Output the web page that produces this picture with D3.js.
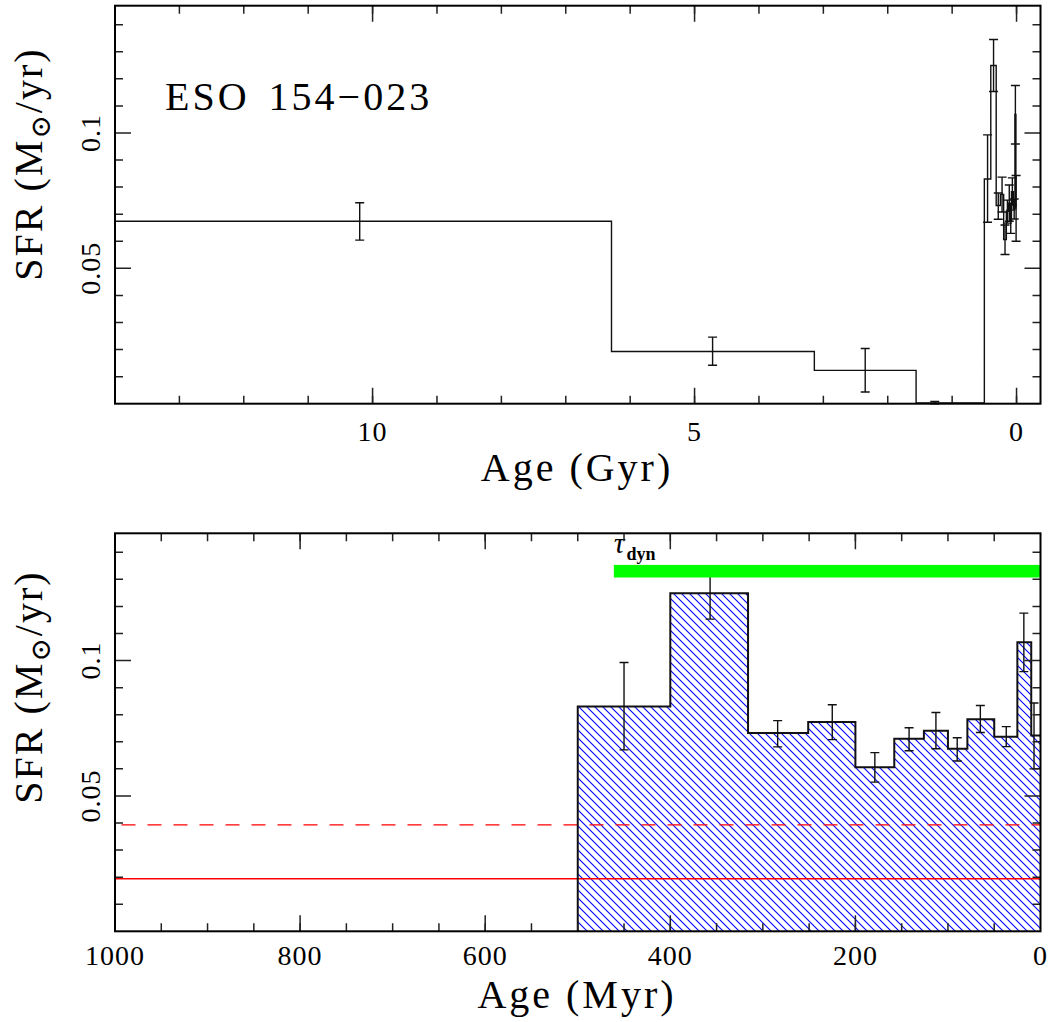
<!DOCTYPE html>
<html>
<head>
<meta charset="utf-8">
<script src="https://cdn.jsdelivr.net/npm/d3@7"></script>
<style>
  body { margin: 0; background: #fff; }
  svg { display: block; }
  text { font-family: "Liberation Serif", "DejaVu Serif", serif; fill: #000; }
</style>
</head>
<body>
<div id="chart"></div>
<script>
// ---------- DATA ----------
// old bins (Gyr) : only on the top panel
const oldEdgesGyr = [14, 6.29, 3.14, 1.56, 0.5];
const oldSfr      = [0.0674, 0.0193, 0.0123, 0.0003];
const oldErrAge   = [10.2, 4.72, 2.35, 1.27];
const oldErrLo    = [0.0604, 0.0142, 0.0043, 0.0000];
const oldErrHi    = [0.0742, 0.0246, 0.0204, 0.0008];

// young bins (Myr) : bottom panel, and the right end of the top one
const youngEdgesMyr = [500, 400, 316, 251, 200, 158, 126, 100, 79, 50, 25, 10, 0];
const youngSfr      = [0.0830, 0.1249, 0.0732, 0.0773, 0.0606, 0.0711, 0.0741, 0.0674, 0.0783, 0.0719, 0.1068, 0.0723];
const youngErrAge   = [450, 357, 284, 225, 179, 142, 113, 90, 65, 37, 18, 7];
const youngErrLo    = [0.0670, 0.1153, 0.0681, 0.0708, 0.0551, 0.0667, 0.0674, 0.0629, 0.0734, 0.0682, 0.0959, 0.0600];
const youngErrHi    = [0.0993, 0.1345, 0.0778, 0.0837, 0.0660, 0.0752, 0.0808, 0.0715, 0.0834, 0.0756, 0.1175, 0.0843];

// red reference levels (solid, dashed)
const refSfr = [0.0194, 0.0393];

// dynamical time bar (Myr) and its height
const tauDynMyr = [461, 0];
const tauDynSfr = 0.133;

const yTicksMajor = [0.05, 0.1];
const galaxyName = "ESO 154\u2212023";

// ---------- SETUP ----------
const W = 1050, H = 1022;
const svg = d3.select("#chart").append("svg")
  .attr("width", W)
  .attr("height", H);

const defs = svg.append("defs");
const hatch = defs.append("pattern")
  .attr("id", "hatch")
  .attr("patternUnits", "userSpaceOnUse")
  .attr("width", 8)
  .attr("height", 8);
hatch.append("path")
  .attr("d", "M0,0L8,8M-2,6L2,10M6,-2L10,2")
  .attr("stroke", "#0000ff")
  .attr("stroke-width", 1.1);

const L = 115, R = 1040.5;

const topY = d3.scaleLinear().domain([0, 0.147]).range([403.7, 5.7]);
const topX = d3.scaleLinear().domain([14, -0.372]).range([L, R]);
const botY = d3.scaleLinear().domain([0, 0.147]).range([931.3, 533.3]);
const botX = d3.scaleLinear().domain([1000, 0]).range([L, R]);

// step outline from edges + values
function stepPath(x, y, edges, vals, close) {
  let p = `M${x(edges[0])},${y(0)}`;
  vals.forEach((v, i) => {
    p += `V${y(v)}H${x(edges[i + 1])}`;
  });
  if (close) p += `V${y(0)}`;
  return p;
}

function errBars(g, x, y, ages, lo, hi) {
  const cap = 4.5;
  ages.forEach((a, i) => {
    const xx = x(a);
    g.append("path")
      .attr("d", `M${xx},${y(lo[i])}V${y(hi[i])}` +
                 `M${xx - cap},${y(lo[i])}H${xx + cap}` +
                 `M${xx - cap},${y(hi[i])}H${xx + cap}`)
      .attr("fill", "none")
      .attr("stroke", "#111")
      .attr("stroke-width", 1.4);
  });
}

function frame(g, x, y, xMajor, xMinor) {
  const [x0, x1] = x.range();
  const [y0, y1] = y.range();
  const tk = g.append("g").attr("stroke", "#222").attr("stroke-width", 1.5);
  const yMinor = d3.range(1, 15).map(d => d / 100).filter(v => !yTicksMajor.some(m => Math.abs(m - v) < 1e-9));
  const edgeX = v => Math.abs(x(v) - x0) > 2 && Math.abs(x(v) - x1) > 2;
  xMinor.filter(edgeX).forEach(v => {
    tk.append("path").attr("d", `M${x(v)},${y0}v-8M${x(v)},${y1}v8`);
  });
  xMajor.filter(edgeX).forEach(v => {
    tk.append("path").attr("d", `M${x(v)},${y0}v-16M${x(v)},${y1}v16`);
  });
  yMinor.forEach(v => {
    tk.append("path").attr("d", `M${x0},${y(v)}h8M${x1},${y(v)}h-8`);
  });
  yTicksMajor.forEach(v => {
    tk.append("path").attr("d", `M${x0},${y(v)}h16M${x1},${y(v)}h-16`);
  });
  g.append("rect")
    .attr("x", x0).attr("y", y1)
    .attr("width", x1 - x0).attr("height", y0 - y1)
    .attr("fill", "none")
    .attr("stroke", "#000")
    .attr("stroke-width", 2);

  // y tick labels (rotated)
  yTicksMajor.forEach(v => {
    g.append("text")
      .attr("transform", `translate(100,${y(v)}) rotate(-90)`)
      .attr("text-anchor", "middle")
      .style("font-size", "28px")
      .style("letter-spacing", "1px")
      .text(v === 0.1 ? "0.1" : "0.05");
  });
}

function yTitle(g, cy) {
  const t = g.append("text")
    .attr("transform", `translate(42,${cy}) rotate(-90)`)
    .attr("text-anchor", "middle")
    .style("font-size", "40px")
    .style("letter-spacing", "2px");
  t.append("tspan").text("SFR (M");
  t.append("tspan").attr("dy", 8).style("font-size", "28px").text("\u2299");
  t.append("tspan").attr("dy", -8).text("/yr)");
}

// ---------- TOP PANEL ----------
const gTop = svg.append("g");
const allEdgesGyr = oldEdgesGyr.concat(youngEdgesMyr.slice(1).map(d => d / 1000));
const allSfr = oldSfr.concat(youngSfr);

gTop.append("path")
  .attr("d", stepPath(topX, topY, allEdgesGyr, allSfr, false))
  .attr("fill", "none")
  .attr("stroke", "#111")
  .attr("stroke-width", 1.4);

errBars(gTop, topX, topY, oldErrAge, oldErrLo, oldErrHi);
errBars(gTop, topX, topY, youngErrAge.map(d => d / 1000), youngErrLo, youngErrHi);

frame(gTop, topX, topY, [10, 5, 0], d3.range(0, 15));

[10, 5, 0].forEach(v => {
  gTop.append("text")
    .attr("x", topX(v)).attr("y", 441)
    .attr("text-anchor", "middle")
    .style("font-size", "28px")
    .style("letter-spacing", "1px")
    .text(v);
});
gTop.append("text")
  .attr("x", 577).attr("y", 481)
  .attr("text-anchor", "middle")
  .style("font-size", "40px")
  .style("letter-spacing", "3px")
  .text("Age (Gyr)");
gTop.append("text")
  .attr("x", 165).attr("y", 110)
  .style("font-size", "40px")
  .style("letter-spacing", "3px")
  .style("word-spacing", "6px")
  .text(galaxyName);
yTitle(gTop, 164);

// ---------- BOTTOM PANEL ----------
const gBot = svg.append("g");

gBot.append("path")
  .attr("d", stepPath(botX, botY, youngEdgesMyr, youngSfr, true) + "Z")
  .attr("fill", "url(#hatch)")
  .attr("stroke", "none");

refSfr.forEach((v, i) => {
  gBot.append("line")
    .attr("x1", i === 0 ? L : L + 6.5).attr("x2", R)
    .attr("y1", botY(v)).attr("y2", botY(v))
    .attr("stroke", "#ff0000")
    .attr("stroke-width", 1.3)
    .attr("stroke-dasharray", i === 0 ? null : "14,12");
});

gBot.append("path")
  .attr("d", stepPath(botX, botY, youngEdgesMyr, youngSfr, false))
  .attr("fill", "none")
  .attr("stroke", "#111")
  .attr("stroke-width", 2);

errBars(gBot, botX, botY, youngErrAge, youngErrLo, youngErrHi);

// tau_dyn bar
gBot.append("rect")
  .attr("x", botX(tauDynMyr[0]))
  .attr("width", botX(tauDynMyr[1]) - botX(tauDynMyr[0]))
  .attr("y", botY(tauDynSfr) - 6.3)
  .attr("height", 12.6)
  .attr("fill", "#00ff00");

const tl = gBot.append("text")
  .attr("x", botX(tauDynMyr[0]))
  .attr("y", 553);
tl.append("tspan").style("font-size", "30px").style("font-style", "italic").text("\u03c4");
tl.append("tspan").attr("dx", 2).attr("dy", 7).style("font-size", "18px").style("font-weight", "bold").text("dyn");

frame(gBot, botX, botY, d3.range(0, 1001, 200), d3.range(0, 1001, 50));

d3.range(0, 1001, 200).forEach(v => {
  gBot.append("text")
    .attr("x", botX(v)).attr("y", 965)
    .attr("text-anchor", "middle")
    .style("font-size", "28px")
    .style("letter-spacing", "1px")
    .text(v);
});
gBot.append("text")
  .attr("x", 577).attr("y", 1008)
  .attr("text-anchor", "middle")
  .style("font-size", "40px")
  .style("letter-spacing", "3px")
  .text("Age (Myr)");
yTitle(gBot, 687);
</script>
</body>
</html>
